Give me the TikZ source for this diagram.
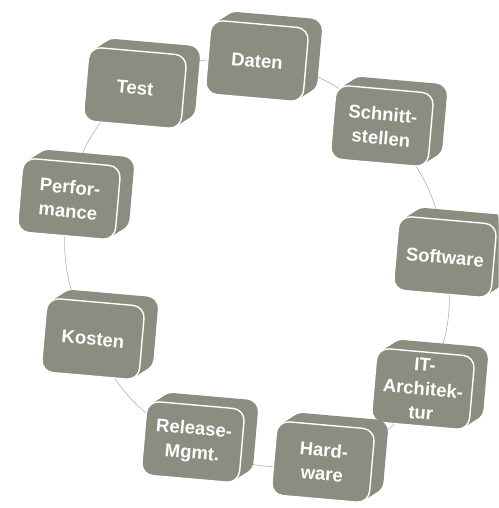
\documentclass[tikz,border=0pt]{standalone}
\usepackage{fontspec}
\setmainfont{Liberation Sans}
\definecolor{boxgrey}{RGB}{140,140,128}
\definecolor{ringgrey}{RGB}{178,178,178}
\pgfdeclarelayer{ringlayer}
\pgfsetlayers{ringlayer,main}
\tikzset{
  cyclebox/.style={rectangle, rounded corners=12pt, fill=boxgrey, draw=white,
    line width=1.4pt, minimum width=98pt, minimum height=74pt, text=white,
    font=\bfseries\fontsize{18.5}{24}\selectfont, align=center, inner sep=0pt,
    transform shape},
  slab/.style={fill=boxgrey, rounded corners=12pt},
  ring/.style={draw=ringgrey, line width=0.6pt}
}
\newcommand\cyclenode[4]{%
  \begin{scope}[shift={(#2,#3)}, rotate=-5]
    \foreach \t in {0,1,...,13} {\fill[slab] (-49+\t,-37-\t*0.77) rectangle (49+\t,37-\t*0.77);}
    \node[cyclebox] (#1) at (0,0) {#4};
  \end{scope}}
\begin{document}
\begin{tikzpicture}[x=1pt,y=-1pt]
  \useasboundingbox (0,0) rectangle (498,508);
  \clip (0,0) rectangle (498,508);
  \cyclenode{daten}{257}{61}{Daten}
  \cyclenode{schnitt}{382}{126}{Schnitt-\\stellen}
  \cyclenode{software}{445}{257}{Software}
  \cyclenode{itarch}{423}{389}{IT-\\Architek-\\tur}
  \cyclenode{hardware}{323}{462}{Hard-\\ware}
  \cyclenode{release}{193}{442}{Release-\\Mgmt.}
  \cyclenode{kosten}{93}{339}{Kosten}
  \cyclenode{perf}{69}{199}{Perfor-\\mance}
  \cyclenode{test}{135}{88}{Test}
  \begin{pgfonlayer}{ringlayer}
    \draw[ring] (daten.center) to[bend left=20] (schnitt.center);
    \draw[ring] (schnitt.center) to[bend left=20] (software.center);
    \draw[ring] (software.center) to[bend left=20] (itarch.center);
    \draw[ring] (itarch.center) to[bend left=20] (hardware.center);
    \draw[ring] (hardware.center) to[bend left=20] (release.center);
    \draw[ring] (release.center) to[bend left=20] (kosten.center);
    \draw[ring] (kosten.center) to[bend left=20] (perf.center);
    \draw[ring] (perf.center) to[bend left=20] (test.center);
    \draw[ring] (test.center) to[bend left=20] (daten.center);
  \end{pgfonlayer}
\end{tikzpicture}
\end{document}
